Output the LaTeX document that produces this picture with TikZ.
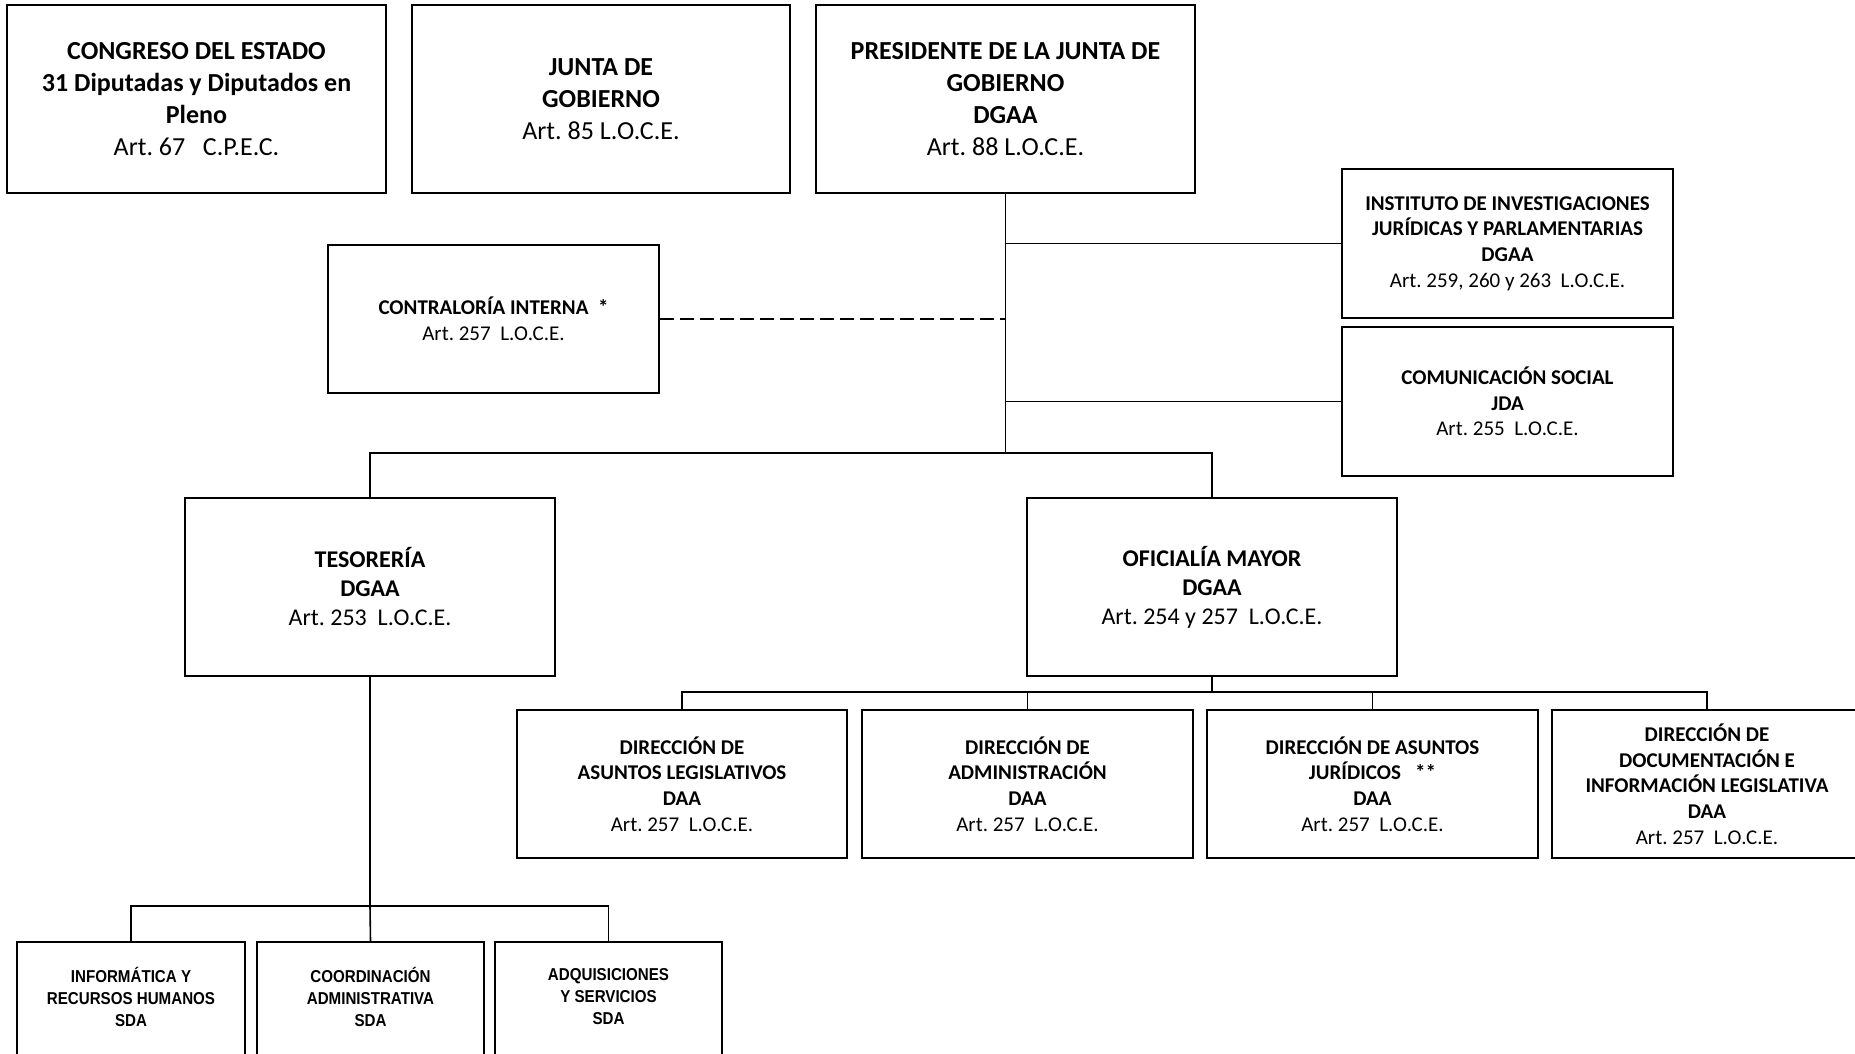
\documentclass[tikz,border=0pt]{standalone}
\usepackage{fontspec}
\setmainfont{Carlito}
\newfontfamily\arialfont[FakeStretch=0.88]{Liberation Sans}
\frenchspacing
\begin{document}
\begin{tikzpicture}[x=1pt,y=-1pt,
  box/.style={draw, line width=1.8pt, inner sep=0pt, align=center, anchor=center},
  topbox/.style={box, minimum width=379pt, minimum height=188pt, font=\fontsize{26}{32}\selectfont},
  midbox/.style={box, minimum width=370pt, minimum height=178pt, font=\fontsize{24}{29}\selectfont},
  smallbox/.style={box, minimum width=331pt, minimum height=149pt, font=\fontsize{21}{25.7}\selectfont},
  lowbox/.style={box, minimum width=228pt, minimum height=120pt, font=\arialfont\fontsize{17.2}{22}\selectfont\bfseries},
  conn/.style={line width=1.6pt},
  dconn/.style={line width=1.6pt, dash pattern=on 14pt off 6pt}]
\useasboundingbox (0,0) rectangle (1855,1054);
\fill[white] (0,0) rectangle (1855,1054);
\clip (0,0) rectangle (1855,1054);

% top row
\node[topbox] (cong) at (196.5,99) {\textbf{CONGRESO DEL ESTADO}\\\textbf{31 Diputadas y Diputados en}\\\textbf{Pleno}\\Art. 67\ \ \ C.P.E.C.};
\node[topbox, minimum width=378pt] (junta) at (601,99) {\textbf{JUNTA DE}\\\textbf{GOBIERNO}\\Art. 85 L.O.C.E.};
\node[topbox] (pres) at (1005.5,99) {\textbf{PRESIDENTE DE LA JUNTA DE}\\\textbf{GOBIERNO}\\\textbf{DGAA}\\Art. 88 L.O.C.E.};

% staff units
\node[smallbox] (inst) at (1507.5,243.5) {\textbf{INSTITUTO DE INVESTIGACIONES}\\\textbf{JURÍDICAS Y PARLAMENTARIAS}\\\textbf{DGAA}\\Art. 259, 260 y 263\ \ L.O.C.E.};
\node[smallbox] (comu) at (1507.5,401.5) {\textbf{COMUNICACIÓN SOCIAL}\\\textbf{JDA}\\Art. 255\ \ L.O.C.E.};
\node[smallbox, minimum height=148pt] (contr) at (493.5,319) {\textbf{CONTRALORÍA INTERNA\ \ *}\\Art. 257\ \ L.O.C.E.};

% second level
\node[midbox] (tes) at (370,587) {\textbf{TESORERÍA}\\\textbf{DGAA}\\Art. 253\ \ L.O.C.E.};
\node[midbox] (ofi) at (1212,587) {\textbf{OFICIALÍA MAYOR}\\\textbf{DGAA}\\Art. 254 y 257\ \ L.O.C.E.};

% direcciones
\node[smallbox, minimum width=330pt, minimum height=148pt] (d1) at (682,784) {\textbf{DIRECCIÓN DE}\\\textbf{ASUNTOS LEGISLATIVOS}\\\textbf{DAA}\\Art. 257\ \ L.O.C.E.};
\node[smallbox, minimum height=148pt] (d2) at (1027.5,784) {\textbf{DIRECCIÓN DE}\\\textbf{ADMINISTRACIÓN}\\\textbf{DAA}\\Art. 257\ \ L.O.C.E.};
\node[smallbox, minimum height=148pt] (d3) at (1372.5,784) {\textbf{DIRECCIÓN DE ASUNTOS}\\\textbf{JURÍDICOS\ \ \ **}\\\textbf{DAA}\\Art. 257\ \ L.O.C.E.};
\node[smallbox, minimum width=310pt, minimum height=148pt] (d4) at (1707,784) {\textbf{DIRECCIÓN DE}\\\textbf{DOCUMENTACIÓN E}\\\textbf{INFORMACIÓN LEGISLATIVA}\\\textbf{DAA}\\Art. 257\ \ L.O.C.E.};

% bottom row
\node[lowbox] (b1) at (131,1002) {INFORMÁTICA Y\\RECURSOS HUMANOS\\SDA\\[-11pt]\mbox{}};
\node[lowbox, minimum width=227pt] (b2) at (370.5,1002) {COORDINACIÓN\\ADMINISTRATIVA\\SDA\\[-11pt]\mbox{}};
\node[lowbox, minimum width=227pt] (b3) at (608.5,1002) {ADQUISICIONES\\Y SERVICIOS\\SDA\\[-11pt]\mbox{}};

% junctions
\coordinate (j1) at (pres.south |- 0,453);
\coordinate (j2) at (ofi.south |- 0,692);
\coordinate (j3) at (tes.south |- 0,906);

% connectors
\draw[conn] (pres.south) -- (j1);
\draw[conn] (inst.west) -- (inst.west -| pres.south);
\draw[conn] (comu.west) -- (comu.west -| pres.south);
\draw[dconn] (contr.east) -- (contr.east -| pres.south);
\draw[conn] (tes.north) |- (j1) -| (ofi.north);
\draw[conn] (ofi.south) -- (j2);
\draw[conn] (d1.north) |- (j2) -| (d4.north);
\draw[conn] (d2.north) -- (d2.north |- j2);
\draw[conn] (d3.north) -- (d3.north |- j2);
\draw[conn] (tes.south) -- (j3);
\draw[conn] (b1.north) |- (j3) -| (b3.north);
\draw[conn] (b2.north) -- (j3);
\end{tikzpicture}
\end{document}
